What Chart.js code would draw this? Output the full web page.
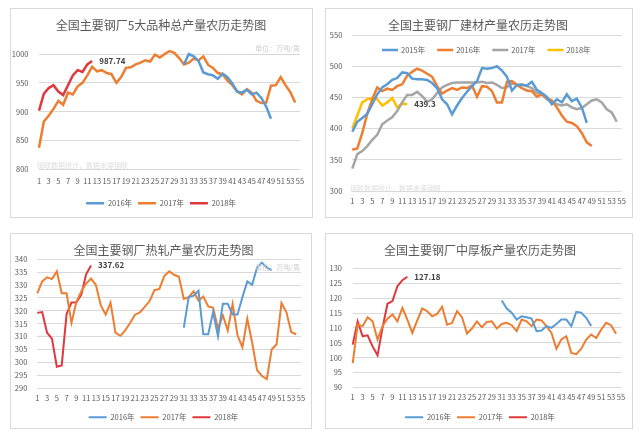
<!DOCTYPE html>
<html>
<head>
<meta charset="utf-8">
<script src="https://cdn.jsdelivr.net/npm/chart.js@4.4.1/dist/chart.umd.min.js"></script>
<style>
  body { margin: 0; background: #fff; width: 640px; height: 438px; position: relative; overflow: hidden; }
  .panel { position: absolute; border: 1px solid #d9d9d9; box-sizing: border-box; }
  canvas { position: absolute; }
</style>
</head>
<body>
<div class="panel" style="left:10px;top:8px;width:303px;height:210px"></div>
<div class="panel" style="left:325px;top:8px;width:308px;height:210px"></div>
<div class="panel" style="left:10px;top:233px;width:302px;height:196px"></div>
<div class="panel" style="left:325px;top:233px;width:308px;height:196px"></div>
<canvas id="c1" width="302" height="209" style="left:10px;top:8px"></canvas>
<canvas id="c2" width="306" height="203" style="left:325px;top:8px"></canvas>
<canvas id="c3" width="307" height="198" style="left:10px;top:233px"></canvas>
<canvas id="c4" width="310" height="198" style="left:325px;top:233px"></canvas>
<script>
// 农历周 1-55
const weeks = ['1','2','3','4','5','6','7','8','9','10','11','12','13','14','15','16','17','18','19','20',
  '21','22','23','24','25','26','27','28','29','30','31','32','33','34','35','36','37','38','39','40',
  '41','42','43','44','45','46','47','48','49','50','51','52','53','54','55'];

const pad30 = [null,null,null,null,null,null,null,null,null,null,null,null,null,null,null,
  null,null,null,null,null,null,null,null,null,null,null,null,null,null,null];

// 5大品种总产量 (万吨/周)
const total2016 = pad30.concat([982, 1000, 996, 988, 968, 965, 963, 957, 966, 960, 949, 935, 933, 938, 930, 933, 924, 909, 888]);
const total2017 = [837.6, 883, 893, 905, 919, 912, 933, 930, 944, 950, 963, 978, 970, 972, 967, 965, 950, 960, 976, 977,
  982, 985, 989, 987, 999, 994, 1000, 1005, 1002, 993, 982, 985, 992, 989, 996, 981, 976, 967, 965, 954,
  946, 935, 930, 939, 933, 919, 915, 916, 945, 946, 960, 946, 934, 916];
const total2018 = [902, 931, 941, 946, 935, 929, 946, 963, 972, 969, 982, 987.74];

// 建材
const rebar2015 = [395, 411, 417, 424, 439, 455, 466, 471, 478, 481, 490, 489, 480, 479, 479, 478, 473, 465, 447, 439,
  423, 437, 449, 459, 468, 476, 497, 496, 497, 500, 493, 483, 461, 470, 470, 469, 475, 462, 457, 451,
  439, 447, 442, 455, 444, 448, 434, 409];
const rebar2016 = [366, 368, 393, 424, 447, 466, 460, 464, 462, 468, 471, 485, 491, 496, 493, 488, 483, 468, 456, 461,
  465, 462, 466, 465, 469, 451, 468, 467, 460, 442, 442, 475, 476, 470, 465, 461, 460, 451, 455, 449,
  445, 434, 421, 411, 409, 404, 393, 378, 372];
const rebar2017 = [336, 359, 364, 372, 382, 390, 407, 413, 418, 428, 442, 454, 454, 459, 452, 443, 447, 457, 466, 470,
  473, 474, 474, 474, 474, 474, 475, 473, 474, 470, 465, 466, 473, 470, 471, 468, 465, 457, 455, 447,
  442, 439, 437, 439, 434, 431, 433, 439, 445, 447, 442, 431, 426, 411];
const rebar2018 = [400, 421, 442, 447, 449, 447, 437, 442, 449, 434, 440, 439.3];

// 热轧
const hot2016 = pad30.concat([313.5, 325.3, 325.9, 327.8, 310.9, 310.9, 319.5, 310.1, 322.7, 322.7, 318.6, 318.6, 325.3, 331.4, 330.1, 336.8, 338.7, 336.8, 335.8]);
const hot2017 = [326.8, 331.4, 333, 332.3, 335.3, 326.8, 326.8, 315.3, 323.5, 327.5, 330.6, 332.5, 330, 322.2, 318.5, 323.2, 311.5, 310.3, 312.4, 315.3,
  318.5, 319.4, 321.5, 323.8, 328, 328.5, 333.5, 335.3, 334, 333.2, 324.6, 325.3, 327.6, 324, 325.5, 321.7, 321.2, 313.1, 318.2, 312.4,
  322.7, 310.5, 305.8, 316.9, 307.6, 297, 294.7, 293.5, 305, 307, 323, 319.5, 311.8, 310.9];
const hot2018 = [319.2, 319.5, 311.5, 309.2, 298.3, 298.8, 318.8, 323.2, 323.3, 326.2, 334.2, 337.62];

// 中厚板
const plate2016 = pad30.concat([119.2, 116.5, 115.1, 112.8, 113.9, 113.6, 113.1, 108.9, 109.1, 110.6, 110, 111.3, 112.8, 112.8, 110.6, 115.4, 115.1, 113.4, 110.6]);
const plate2017 = [98.2, 111.1, 110.6, 113.6, 112.2, 106.1, 110.6, 113.1, 114.5, 112.2, 116.7, 112.8, 108.3, 112.5, 116.5, 115.6, 113.9, 114.7, 117.1, 111.1,
  111.7, 115.6, 113.6, 108.1, 109.8, 112.2, 110.2, 112, 112.2, 109.8, 111.3, 111.7, 110.9, 108.9, 112.8, 112.2, 110.6, 112.8, 112.5, 110.6,
  108.3, 103, 106.1, 107.2, 101.6, 101.2, 103, 106.1, 107.8, 106.6, 109.4, 111.7, 110.9, 108];
const plate2018 = [104.4, 112.2, 107.2, 107.5, 103.8, 100.8, 110, 118.1, 119, 124, 126, 127.18];

const BLUE = '#5b9bd5', ORANGE = '#ed7d31', RED = '#e0383f', GRAY = '#a5a5a5', YELLOW = '#ffc000';
const FONT = "'Noto Sans CJK SC', 'Liberation Sans', sans-serif";
const TEXT = '#595959';

Chart.defaults.font.family = FONT;

// 注释文字、最新值标签、图内图例
function extras(cfg) {
  return {
    id: 'extras',
    afterDatasetsDraw(chart) {
      const ctx = chart.ctx;
      ctx.save();
      ctx.textBaseline = 'middle';
      (cfg.notes || []).forEach(n => {
        ctx.font = '7px ' + FONT;
        ctx.fillStyle = n.color;
        ctx.textAlign = n.align || 'left';
        ctx.fillText(n.text, n.x, n.y);
      });
      if (cfg.last != null) {
        const ds = chart.data.datasets[cfg.last];
        const pts = chart.getDatasetMeta(cfg.last).data;
        const p = pts[pts.length - 1];
        ctx.font = 'bold 8px ' + FONT;
        ctx.fillStyle = '#404040';
        ctx.textAlign = 'left';
        ctx.fillText(String(ds.data[ds.data.length - 1]), p.x + 7, p.y);
      }
      if (cfg.legendAt) {
        let x = cfg.legendAt.x;
        const y = cfg.legendAt.y;
        ctx.font = '7.5px ' + FONT;
        chart.data.datasets.forEach(ds => {
          ctx.strokeStyle = ds.borderColor;
          ctx.lineWidth = ds.borderWidth;
          ctx.beginPath();
          ctx.moveTo(x, y);
          ctx.lineTo(x + 16, y);
          ctx.stroke();
          ctx.fillStyle = TEXT;
          ctx.textAlign = 'left';
          ctx.fillText(ds.label, x + 19, y);
          x += 19 + ctx.measureText(ds.label).width + 12;
        });
      }
      ctx.restore();
    }
  };
}

function makeChart(id, o) {
  return new Chart(document.getElementById(id), {
    type: 'line',
    data: {
      labels: weeks,
      datasets: o.series.map(s => ({
        label: s[0], data: s[1], borderColor: s[2], backgroundColor: s[2],
        borderWidth: o.lw, pointRadius: 0, tension: 0, clip: false
      }))
    },
    options: {
      responsive: false,
      animation: false,
      events: [],
      layout: { padding: { left: 0, right: 0, top: 0, bottom: 0 } },
      plugins: {
        title: {
          display: true, text: o.title, color: TEXT,
          font: { size: 12, weight: 'normal', lineHeight: 1.2 },
          padding: { top: 9.8, bottom: o.titleBottom }
        },
        legend: {
          display: o.legend, position: 'bottom',
          labels: { usePointStyle: true, pointStyle: 'line', pointStyleWidth: 18, padding: 6, color: TEXT, font: { size: 7.5 } }
        },
        tooltip: { enabled: false }
      },
      scales: {
        x: {
          grid: { display: false, drawTicks: false },
          border: { display: false },
          ticks: {
            autoSkip: false, maxRotation: 0, padding: o.xPad, color: TEXT,
            font: { size: 7.5, lineHeight: o.xLh },
            callback: function (v, i) { return i % 2 === 0 ? this.getLabelForValue(v) : ''; }
          },
          afterFit: function (s) { s.paddingRight = o.xPR; }
        },
        y: {
          min: o.min, max: o.max,
          ticks: {
            stepSize: o.step, padding: o.yPad, color: TEXT, font: { size: 7.5 },
            callback: v => String(v)
          },
          grid: { color: '#d9d9d9', drawTicks: false },
          border: { display: false },
          afterFit: function (s) { s.width = o.yW; }
        }
      }
    },
    plugins: [extras(o.extras)]
  });
}

makeChart('c1', {
  title: '全国主要钢厂5大品种总产量农历走势图',
  series: [['2016年', total2016, BLUE], ['2017年', total2017, ORANGE], ['2018年', total2018, RED]],
  lw: 2.5, min: 800, max: 1000, step: 50,
  yW: 29, xPR: 12, yPad: 10.5, titleBottom: 21.8, xPad: 5.75, xLh: 1.667, legend: true,
  extras: {
    last: 2,
    notes: [
      { text: '单位：万吨/周', x: 290, y: 40, color: '#cfcfcf', align: 'right' },
      { text: '钢联数据统计，数据来源钢联', x: 27, y: 157, color: '#dedede' }
    ]
  }
});

makeChart('c2', {
  title: '全国主要钢厂建材产量农历走势图',
  series: [['2015年', rebar2015, BLUE], ['2016年', rebar2016, ORANGE], ['2017年', rebar2017, GRAY], ['2018年', rebar2018, YELLOW]],
  lw: 2.5, min: 300, max: 550, step: 50,
  yW: 27.3, xPR: 9.3, yPad: 10, titleBottom: 2.8, xPad: 5.5, xLh: 1.2, legend: false,
  extras: {
    last: 3,
    legendAt: { x: 57, y: 42 },
    notes: [{ text: '钢联数据统计，数据来源钢联', x: 25, y: 180, color: '#dedede' }]
  }
});

makeChart('c3', {
  title: '全国主要钢厂热轧产量农历走势图',
  series: [['2016年', hot2016, BLUE], ['2017年', hot2017, ORANGE], ['2018年', hot2018, RED]],
  lw: 2, min: 290, max: 340, step: 5,
  yW: 27.3, xPR: 16, yPad: 10, titleBottom: 2.1, xPad: 1.45, xLh: 2.2, legend: true,
  extras: {
    last: 2,
    notes: [{ text: '单位：万吨/周', x: 290, y: 34, color: '#cfcfcf', align: 'right' }]
  }
});

makeChart('c4', {
  title: '全国主要钢厂中厚板产量农历走势图',
  series: [['2016年', plate2016, BLUE], ['2017年', plate2017, ORANGE], ['2018年', plate2018, RED]],
  lw: 2, min: 90, max: 130, step: 5,
  yW: 27.7, xPR: 14, yPad: 10.7, titleBottom: 11.1, xPad: 1.75, xLh: 2.2, legend: true,
  extras: { last: 2 }
});
</script>
</body>
</html>
